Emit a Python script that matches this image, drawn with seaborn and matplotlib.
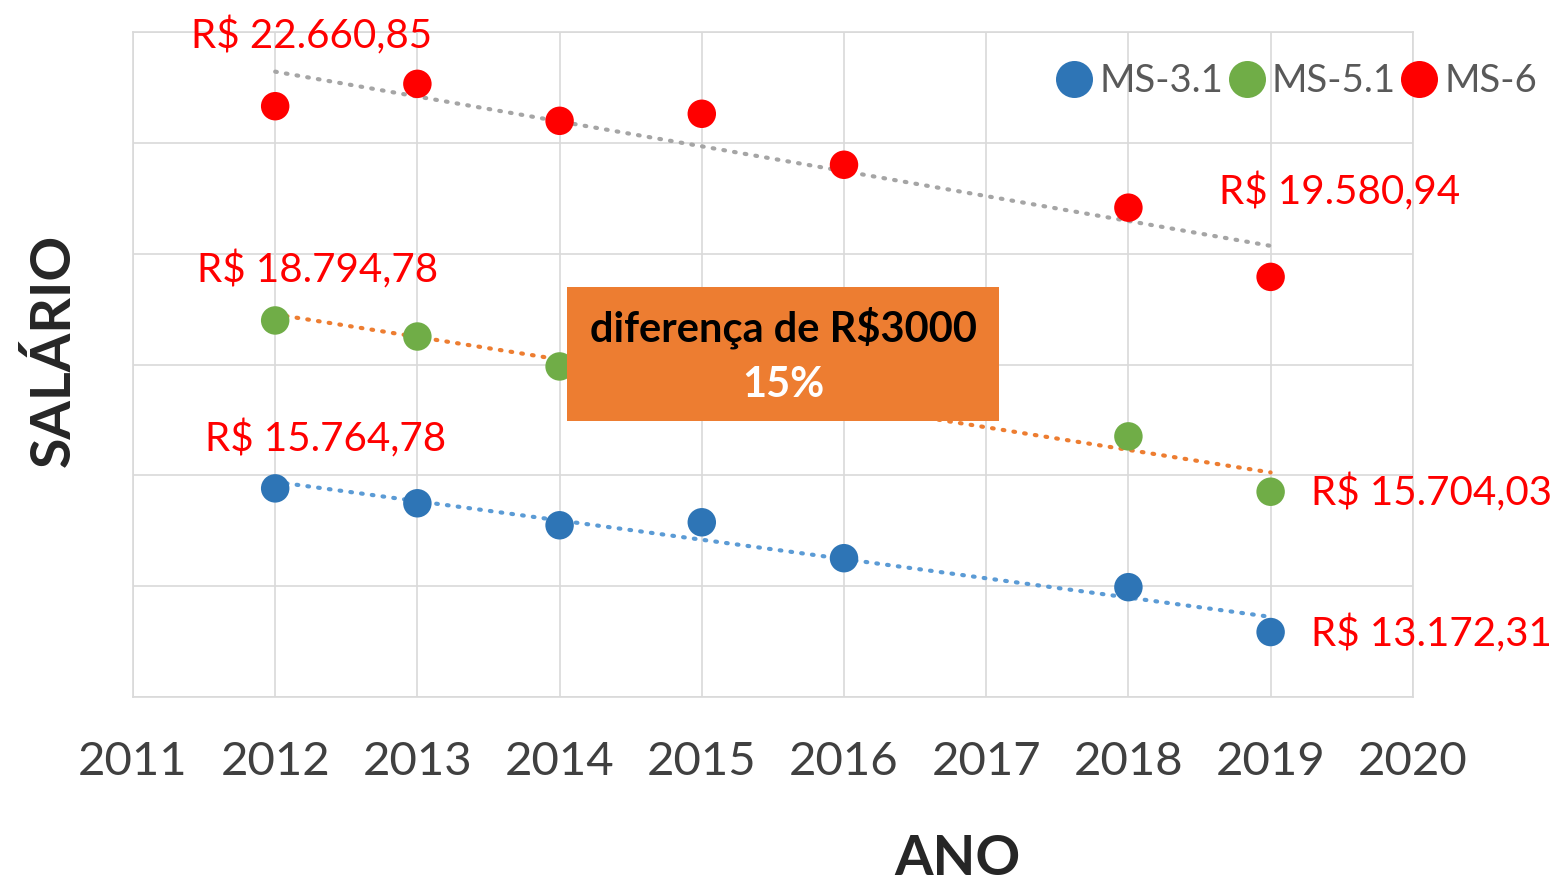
import pandas as pd
import matplotlib.pyplot as plt
import matplotlib.patches as mpatches
import seaborn as sns

# dados (2015 e 2016 do MS-5.1 ficam atrás da caixa)
anos = [2012, 2013, 2014, 2015, 2016, 2018, 2019]
ms31 = [15764.78, 15496, 15099, 15153, 14505, 13982, 13172.31]
ms51 = [18794.78, 18505, 17965, 17800, 17490, 16703, 15704.03]
ms6 = [22660.85, 23064, 22397, 22524, 21604, 20830, 19580.94]
series = ["MS-3.1", "MS-5.1", "MS-6"]
ticks_x = list(range(2011, 2021))
ticks_y = list(range(12000, 24001, 2000))

cores = {"MS-3.1": "#2E75B6", "MS-5.1": "#70AD47", "MS-6": "#FF0000"}
cores_trend = {"MS-3.1": "#5B9BD5", "MS-5.1": "#ED7D31", "MS-6": "#A5A5A5"}

df = pd.DataFrame({
    "Ano": anos * 3,
    "Salario": ms31 + ms51 + ms6,
    "Serie": [s for s in series for _ in anos],
})

sns.set_style("white")
plt.rcParams["font.family"] = ["Lato", "DejaVu Sans"]

fig = plt.figure(figsize=(15.57, 8.86), dpi=100)
ax = fig.add_axes([0.0854, 0.2133, 0.822, 0.7506])

# linhas de tendência
for s in series:
    sub = df[df["Serie"] == s]
    sns.regplot(data=sub, x="Ano", y="Salario", scatter=False, ci=None, ax=ax,
                line_kws=dict(color=cores_trend[s], lw=3, ls=(0, (0.4, 2.2)),
                              dash_capstyle="round", zorder=2))

sns.scatterplot(data=df, x="Ano", y="Salario", hue="Serie", palette=cores,
                s=420, edgecolor="none", ax=ax, zorder=3)

ax.set_xlim(2011, 2020)
ax.set_ylim(12000, 24000)
ax.set_xticks(ticks_x)
ax.set_yticks(ticks_y)
ax.set_yticklabels([])
ax.grid(True, color="#D9D9D9", lw=1.2)
ax.set_axisbelow(True)
for sp in ax.spines.values():
    sp.set_color("#D9D9D9")
    sp.set_linewidth(1.2)
ax.tick_params(axis="x", length=0, pad=32, labelsize=34, labelcolor="#404040")
ax.tick_params(axis="y", length=0)
ax.set_xlabel("")
ax.set_ylabel("")

# legenda
h, l = ax.get_legend_handles_labels()
leg = ax.legend(h, l, loc="upper right", bbox_to_anchor=(1.109, 0.976), ncol=3,
                frameon=False, fontsize=27.5, handlelength=1.0, handletextpad=0.15,
                columnspacing=0.12, markerscale=1.3, borderaxespad=0)
for t in leg.get_texts():
    t.set_color("#595959")

# rótulos dos valores
vermelho = "#FF0000"
rotulos = [
    (anos[0], ms6[0], "R$ 22.660,85", (36, 70), "center"),
    (anos[0], ms51[0], "R$ 18.794,78", (42, 51), "center"),
    (anos[0], ms31[0], "R$ 15.764,78", (50, 49), "center"),
    (anos[-1], ms6[-1], "R$ 19.580,94", (69, 85), "center"),
    (anos[-1], ms51[-1], "R$ 15.704,03", (40, -1), "left"),
    (anos[-1], ms31[-1], "R$ 13.172,31", (40, -2), "left"),
]
for x, y, txt, off, ha in rotulos:
    ax.annotate(txt, xy=(x, y), xytext=off, textcoords="offset pixels",
                ha=ha, va="center", fontsize=29, color=vermelho,
                annotation_clip=False, zorder=5)

# caixa laranja
ax.add_patch(mpatches.Rectangle((0.339, 0.415), 0.338, 0.2015,
                                transform=ax.transAxes, facecolor="#ED7D31",
                                edgecolor="none", zorder=6))
ax.text(0.508, 0.555, "diferença de R$3000", transform=ax.transAxes,
        ha="center", va="center", fontsize=30, fontweight="bold",
        color="black", zorder=7)
ax.text(0.508, 0.469, "15%", transform=ax.transAxes, ha="center",
        va="center", fontsize=30, fontweight="bold", color="white", zorder=7)

fig.text(0.615, 0.031, "ANO", ha="center", va="center", fontsize=40,
         fontweight="bold", color="#262626")
fig.text(0.034, 0.605, "SALÁRIO", ha="center", va="center", rotation=90,
         fontsize=40, fontweight="bold", color="#262626")

fig.savefig("out.png", dpi=100)
